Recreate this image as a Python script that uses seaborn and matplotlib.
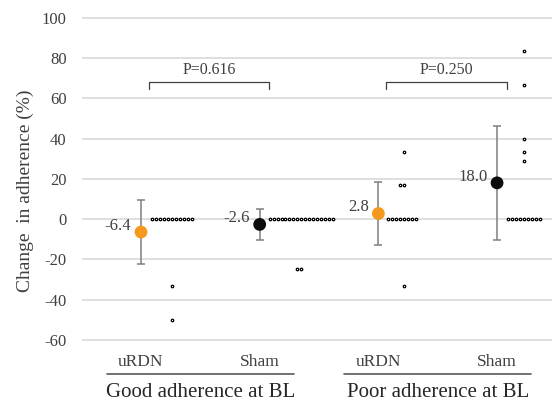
import matplotlib
matplotlib.use("Agg")
import matplotlib.pyplot as plt
import matplotlib.transforms as mtransforms
import numpy as np
import pandas as pd
import seaborn as sns

# Change in adherence (%) per patient
good_urdn = [0, 0, 0, 0, 0, 0, 0, 0, 0, 0, 0, -33.3, -50.0]
good_sham = [0, 0, 0, 0, 0, 0, 0, 0, 0, 0, 0, 0, 0, 0, 0, 0, 0, -25.0, -25.0]
poor_urdn = [0, 0, 0, 0, 0, 0, 0, 0, 33.3, 16.7, 16.7, -33.3]
poor_sham = [0, 0, 0, 0, 0, 0, 0, 0, 0, 83.3, 66.7, 40.0, 33.3, 28.6]

arms = ["uRDN", "Sham", "uRDN", "Sham"]
groups = ["Good adherence at BL", "Poor adherence at BL"]
p_values = ["P=0.616", "P=0.250"]
yticks = [-60, -40, -20, 0, 20, 40, 60, 80, 100]

# layout: how far the individual dots sit right of each mean
dot_shift = [0.26, 0.35, 0.216, 0.227]
colors = {"uRDN": "#F4991E", "Sham": "#0D0D0D"}
txt = "#404040"

sns.set_style("white")
plt.rcParams["font.family"] = ["Liberation Serif", "DejaVu Serif"]
plt.rcParams["axes.unicode_minus"] = False

rows = []
for i, vals in enumerate([good_urdn, good_sham, poor_urdn, poor_sham]):
    for v in vals:
        rows.append({"pos": i, "arm": arms[i], "value": v, "dot_x": i + dot_shift[i]})
df = pd.DataFrame(rows)

fig = plt.figure(figsize=(5.52, 4.05), dpi=100)
ax = fig.add_axes([0.1486, 0.158, 0.8514, 0.801])

# individual patients
sns.swarmplot(data=df, x="dot_x", y="value", native_scale=True, size=1.8,
              color="white", edgecolor="black", linewidth=0.9, ax=ax, zorder=3)

# mean +/- SD
stats = df.groupby("pos")["value"].agg(["mean", "std"])
ax.errorbar(stats.index, stats["mean"], yerr=stats["std"], fmt="none",
            ecolor="#7f7f7f", elinewidth=1.1, capsize=3, capthick=1.1, zorder=2)
sns.scatterplot(x=stats.index, y=stats["mean"], hue=arms, palette=colors,
                s=85, linewidth=0, legend=False, ax=ax, zorder=4)
for pos, m in zip(stats.index, stats["mean"]):
    ax.annotate(f"{m:.1f}", (pos, m), xytext=(-7, 4.5), textcoords="offset points",
                ha="right", va="center", fontsize=12, color=txt)

# significance brackets
for k, p in enumerate(p_values):
    x0 = 2 * k + 0.065
    x1 = 2 * k + 1.08
    ax.plot([x0, x0, x1, x1], [64.4, 67.8, 67.8, 64.4], color=txt, lw=0.9)
    ax.text((x0 + x1) / 2, 74, p, ha="center", va="center", fontsize=11.5, color=txt)

ax.set_xlim(-0.497, 3.463)
ax.set_ylim(-60.5, 100.5)
ax.set_yticks(yticks)
ax.set_xticks(range(4), arms)
ax.tick_params(axis="y", length=0, pad=11, labelsize=12, labelcolor=txt)
ax.tick_params(axis="x", length=0, pad=9, labelsize=12.5, labelcolor=txt)
ax.set_xlabel("")
ax.set_ylabel("Change  in adherence (%)", fontsize=14, color=txt, va="center")
ax.yaxis.set_label_coords(-0.121, 0.462)
ax.yaxis.grid(True, color="#d9d9d9", lw=1.2)
ax.set_axisbelow(True)
for s in ax.spines.values():
    s.set_visible(False)

# group captions under the arm labels
trans = mtransforms.blended_transform_factory(ax.transData, ax.transAxes)
for k, g in enumerate(groups):
    c = 2 * k + 0.5
    ax.plot([c - 0.79, c + 0.79], [-0.1026, -0.1026], color="#595959", lw=1.2,
            transform=trans, clip_on=False)
    ax.text(c, -0.160, g, ha="center", va="center", fontsize=15, color="#262626",
            transform=trans)

fig.savefig("out.png", dpi=100)
